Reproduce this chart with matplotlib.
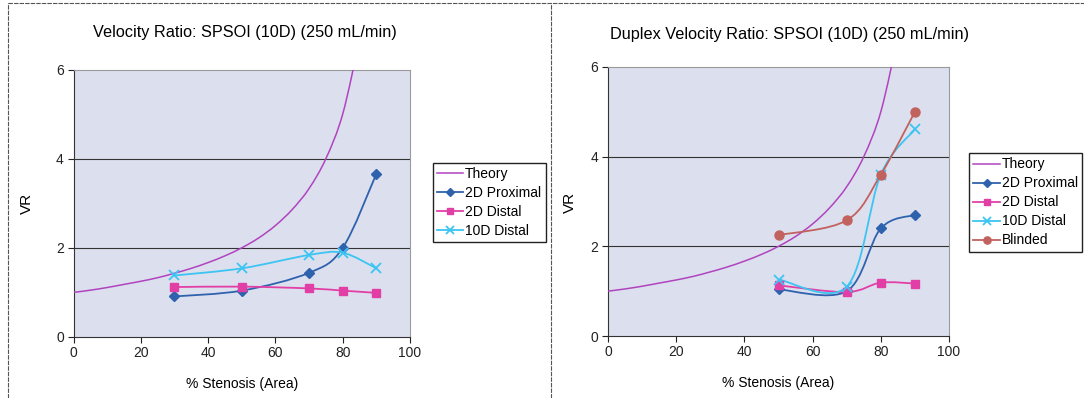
import numpy as np
import matplotlib
matplotlib.use("Agg")
import matplotlib.pyplot as plt
from matplotlib.path import Path
from matplotlib.patches import PathPatch
from matplotlib.lines import Line2D

plt.rcParams['font.family'] = ['Liberation Sans', 'DejaVu Sans']

# ---- data -------------------------------------------------------------
theory_x = [0, 5, 10, 15, 20, 25, 30, 35, 40, 45, 50, 55, 60, 65, 70, 75,
            80, 85]
theory_vr = [1.0, 1.05, 1.11, 1.18, 1.25, 1.33, 1.43, 1.54, 1.67, 1.82, 2.0,
             2.22, 2.5, 2.86, 3.33, 4.0, 5.0, 6.67]

# Velocity ratio panel
vel_x = [30, 50, 70, 80, 90]
vel_2d_prox = [0.91, 1.04, 1.44, 2.00, 3.66]
vel_2d_dist = [1.12, 1.13, 1.09, 1.04, 0.99]
vel_10d_dist = [1.38, 1.54, 1.84, 1.89, 1.54]

# Duplex velocity ratio panel
dup_x = [50, 70, 80, 90]
dup_2d_prox = [1.04, 1.00, 2.40, 2.70]
dup_2d_dist = [1.13, 0.98, 1.19, 1.17]
dup_10d_dist = [1.26, 1.10, 3.60, 4.61]
dup_blinded = [2.25, 2.58, 3.60, 5.00]

x_ticks = [0, 20, 40, 60, 80, 100]
y_ticks = [0, 2, 4, 6]

# ---- styling ----------------------------------------------------------
C_THEORY = '#b044bf'
C_PROX = '#2f62ad'
C_DIST = '#e23fa6'
C_10D = '#3cc4f2'
C_BLIND = '#c2625e'
PLOT_BG = '#dcdfee'
FS = 10


def smooth_path(x, y):
    """Cubic Bezier path through the points (spreadsheet-style smoothing)."""
    pts = np.column_stack([x, y]).astype(float)
    n = len(pts)
    verts = [pts[0]]
    codes = [Path.MOVETO]
    for i in range(n - 1):
        p0 = pts[i - 1] if i > 0 else pts[i]
        p1 = pts[i]
        p2 = pts[i + 1]
        p3 = pts[i + 2] if i + 2 < n else pts[i + 1]
        verts += [p1 + (p2 - p0) / 6.0, p2 - (p3 - p1) / 6.0, p2]
        codes += [Path.CURVE4] * 3
    return Path(verts, codes)


def draw_series(ax, x, y, color, marker=None, ms=6, mew=1.0, lw=1.3):
    ax.add_patch(PathPatch(smooth_path(x, y), fill=False, edgecolor=color,
                           lw=lw, zorder=3))
    if marker:
        ax.plot(x, y, ls='none', marker=marker, color=color, ms=ms,
                mew=mew, zorder=4)
    return Line2D([], [], color=color, lw=lw, marker=marker, ms=ms * 0.8,
                  mew=mew)


def style_axes(ax):
    ax.set_facecolor(PLOT_BG)
    ax.set_xlim(0, 100)
    ax.set_ylim(0, 6)
    ax.set_xticks(x_ticks)
    ax.set_yticks(y_ticks)
    ax.tick_params(direction='out', length=4, width=0.8, labelsize=FS,
                   colors='#222222')
    ax.tick_params(axis='x', pad=2.5)
    ax.tick_params(axis='y', pad=3)
    for y in (2, 4):
        ax.axhline(y, color='#333333', lw=0.8, zorder=1)
    for s in ('left', 'bottom'):
        ax.spines[s].set_color('#333333')
        ax.spines[s].set_linewidth(0.8)
    for s in ('top', 'right'):
        ax.spines[s].set_color('#9a9a9a')
        ax.spines[s].set_linewidth(0.8)
    ax.set_xlabel('% Stenosis (Area)', fontsize=FS, labelpad=12.5)


def add_legend(handles, labels, x_px, y_px):
    fig.legend(handles, labels, loc='upper left',
               bbox_to_anchor=(x_px / W, 1 - y_px / H),
               bbox_transform=fig.transFigure, fontsize=FS, frameon=True,
               fancybox=False, edgecolor='#222222', framealpha=1,
               handlelength=1.9, handletextpad=0.12, labelspacing=0.36,
               borderpad=0.32, borderaxespad=0)


W, H = 1084, 398
fig = plt.figure(figsize=(W / 100, H / 100), dpi=100)

# panel frames
for xs in (8, 551):
    fig.add_artist(Line2D([xs / W, xs / W], [0, 1 - 3 / H], color='#555555',
                          lw=0.8, ls=(0, (4, 1))))
fig.add_artist(Line2D([8 / W, 1], [1 - 3 / H, 1 - 3 / H], color='#555555',
                      lw=0.8, ls=(0, (4, 1))))

# ---- left panel -------------------------------------------------------
ax1 = fig.add_axes([73.5 / W, (H - 337) / H, 336.5 / W, 267.5 / H])
style_axes(ax1)
h = [draw_series(ax1, theory_x, theory_vr, C_THEORY, lw=1.1)]
h.append(draw_series(ax1, vel_x, vel_2d_prox, C_PROX, 'D', ms=5.5))
h.append(draw_series(ax1, vel_x, vel_2d_dist, C_DIST, 's', ms=6))
h.append(draw_series(ax1, vel_x, vel_10d_dist, C_10D, 'x', ms=6.5, mew=1.3))
fig.text(245 / W, 1 - 33 / H, 'Velocity Ratio: SPSOI (10D) (250 mL/min)',
         ha='center', va='center', fontsize=11.7)
fig.text(27 / W, 1 - 203 / H, 'VR', rotation=90, ha='center', va='center',
         fontsize=FS + 1)
add_legend(h, ['Theory', '2D Proximal', '2D Distal', '10D Distal'], 432.5, 162.5)

# ---- right panel ------------------------------------------------------
ax2 = fig.add_axes([608 / W, (H - 336) / H, 341 / W, 269 / H])
style_axes(ax2)
h = [draw_series(ax2, theory_x, theory_vr, C_THEORY, lw=1.1)]
h.append(draw_series(ax2, dup_x, dup_2d_prox, C_PROX, 'D', ms=5.5))
h.append(draw_series(ax2, dup_x, dup_2d_dist, C_DIST, 's', ms=6))
h.append(draw_series(ax2, dup_x, dup_10d_dist, C_10D, 'x', ms=6.5, mew=1.3))
h.append(draw_series(ax2, dup_x, dup_blinded, C_BLIND, 'o', ms=6.5))
fig.text(789 / W, 1 - 35 / H,
         'Duplex Velocity Ratio: SPSOI (10D) (250 mL/min)',
         ha='center', va='center', fontsize=11.7)
fig.text(570 / W, 1 - 202 / H, 'VR', rotation=90, ha='center', va='center',
         fontsize=FS + 1)
add_legend(h, ['Theory', '2D Proximal', '2D Distal', '10D Distal', 'Blinded'],
           969, 153)

fig.savefig('out.png', dpi=100, facecolor='white')
